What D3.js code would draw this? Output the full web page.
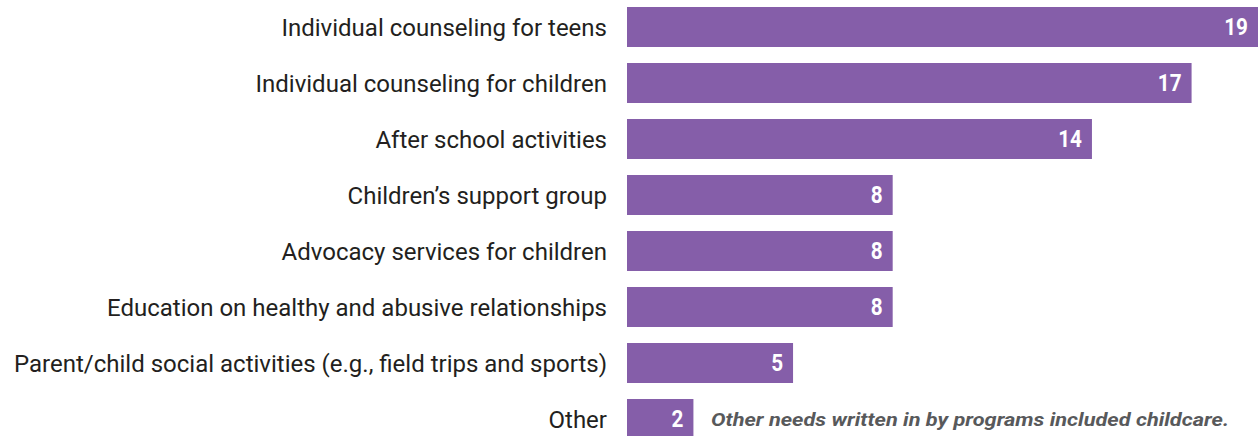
<!DOCTYPE html>
<html>
<head>
<meta charset="utf-8">
<script src="https://cdn.jsdelivr.net/npm/d3@7"></script>
<style>
  html, body { margin: 0; padding: 0; background: #ffffff; }
  svg { display: block; }
</style>
</head>
<body>
<svg id="chart" width="1259" height="436"></svg>
<script>
// Services needed for children and teens, number of programs
const categories = [
  "Individual counseling for teens",
  "Individual counseling for children",
  "After school activities",
  "Children\u2019s support group",
  "Advocacy services for children",
  "Education on healthy and abusive relationships",
  "Parent/child social activities (e.g., field trips and sports)",
  "Other"
];
const values = [19, 17, 14, 8, 8, 8, 5, 2];
const noteText = "Other needs written in by programs included childcare.";

const svg = d3.select("#chart");

const barLeft = 627, barRight = 1258;
const x = d3.scaleLinear().domain([0, 19]).range([barLeft, barRight]);
const y = d3.scaleBand().domain(categories).range([-1, 447]).paddingInner(0.286).paddingOuter(0.143);

const barColor = "#855ea9";
const fontFam = "Roboto, 'Open Sans', sans-serif";

// bars
svg.append("g").selectAll("rect")
  .data(categories)
  .join("rect")
  .attr("x", x(0))
  .attr("y", d => y(d))
  .attr("width", (d, i) => x(values[i]) - x(0))
  .attr("height", y.bandwidth())
  .attr("fill", barColor);

// category labels, right-aligned against the bars
const labels = svg.append("g").selectAll("text")
  .data(categories)
  .join("text")
  .attr("x", 607)
  .attr("y", d => y(d) + y.bandwidth() / 2)
  .attr("dy", "0.36em")
  .attr("text-anchor", "end")
  .attr("font-family", fontFam)
  .attr("font-size", 24)
  .attr("fill", "#231f20")
  .text(d => d);

// narrow the typeface a little so the longest label spans the same column
const longest = labels.nodes()[6];
const squeeze = 593 / longest.getComputedTextLength();
labels.each(function () {
  const w = this.getComputedTextLength();
  d3.select(this).attr("textLength", w * squeeze).attr("lengthAdjust", "spacingAndGlyphs");
});

// value labels inside the bar ends
const vals = svg.append("g").selectAll("text")
  .data(categories)
  .join("text")
  .attr("x", (d, i) => x(values[i]) - 10)
  .attr("y", d => y(d) + y.bandwidth() / 2)
  .attr("dy", "0.36em")
  .attr("text-anchor", "end")
  .attr("font-family", fontFam)
  .attr("font-weight", 700)
  .attr("font-size", 23)
  .attr("fill", "#ffffff")
  .text((d, i) => values[i]);
vals.each(function () {
  const w = this.getComputedTextLength();
  d3.select(this).attr("textLength", w * 0.9).attr("lengthAdjust", "spacingAndGlyphs");
});

// footnote next to the "Other" bar
const last = categories[categories.length - 1];
const note = svg.append("text")
  .attr("x", 711)
  .attr("y", y(last) + y.bandwidth() / 2)
  .attr("dy", "0.36em")
  .attr("font-family", fontFam)
  .attr("font-weight", 700)
  .attr("font-style", "italic")
  .attr("font-size", 18.5)
  .attr("fill", "#58595b")
  .text(noteText);
note.attr("textLength", 518).attr("lengthAdjust", "spacingAndGlyphs");
</script>
</body>
</html>
